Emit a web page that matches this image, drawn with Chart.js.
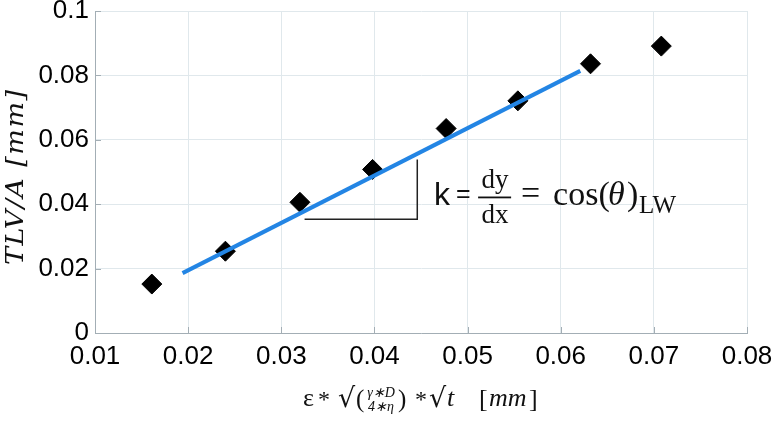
<!DOCTYPE html>
<html><head><meta charset="utf-8">
<script src="https://cdn.jsdelivr.net/npm/chart.js@4/dist/chart.umd.min.js"></script>
<style>html,body{margin:0;padding:0;background:#fff}#wrap{width:774px;height:424px;position:relative}</style>
</head><body><div id="wrap"><canvas id="c" width="774" height="424"></canvas></div>
<script>
// ---- data ----
const xValues = [0.0161, 0.0240, 0.0320, 0.0398, 0.0477, 0.0554, 0.0632, 0.0708];
const yValues = [0.0152, 0.0254, 0.0406, 0.0508, 0.0635, 0.0721, 0.0836, 0.0891];
const fitX = [0.0194, 0.0621];
const fitY = [0.0186, 0.0814];
const slopeX = [0.0325, 0.0446, 0.0446];
const slopeY = [0.0353, 0.0353, 0.0539];
const xTicks = [0.01, 0.02, 0.03, 0.04, 0.05, 0.06, 0.07, 0.08];
const xTickLabels = ['0.01', '0.02', '0.03', '0.04', '0.05', '0.06', '0.07', '0.08'];
const yTicks = [0, 0.02, 0.04, 0.06, 0.08, 0.1];
const yTickLabels = ['0', '0.02', '0.04', '0.06', '0.08', '0.1'];
const annotAnchor = [0.0463, 0.0399];

const pts = (xs, ys) => xs.map((x, i) => ({x: x, y: ys[i]}));
const AXIS = '#a3aeb5';
const GRID = '#e0e8ec';

function run(ctx, x, y, parts) {
  for (const p of parts) {
    ctx.font = p.font;
    ctx.textAlign = p.align || 'left';
    ctx.fillText(p.t, x + p.x, y + (p.dy || 0));
  }
}

const decor = {
  id: 'decor',
  afterDraw(chart) {
    const ctx = chart.ctx, a = chart.chartArea, sx = chart.scales.x, sy = chart.scales.y;
    ctx.save();
    // inward ticks
    ctx.strokeStyle = AXIS; ctx.lineWidth = 1;
    ctx.beginPath();
    xTicks.forEach(v => { const px = Math.round(sx.getPixelForValue(v)) + 0.5; ctx.moveTo(px, a.bottom); ctx.lineTo(px, a.bottom - 6); });
    yTicks.forEach(v => { const py = Math.round(sy.getPixelForValue(v)) + 0.5; ctx.moveTo(a.left, py); ctx.lineTo(a.left + 6, py); });
    ctx.stroke();

    ctx.fillStyle = '#111';
    ctx.textBaseline = 'alphabetic';
    const SER = '"Liberation Serif"';
    const MS = '"DejaVu Serif"';
    // annotation
    const ax = sx.getPixelForValue(annotAnchor[0]);
    const ay = sy.getPixelForValue(annotAnchor[1]);
    run(ctx, ax, ay, [
      {t: 'k', font: '32px "Liberation Sans"', x: 1},
      {t: '=', font: '25px "Liberation Sans"', x: 23, dy: -3},
      {t: 'dy', font: '27px ' + SER, x: 62, dy: -17, align: 'center'},
      {t: 'dx', font: '27px ' + SER, x: 62, dy: 18, align: 'center'},
      {t: '=', font: '34px ' + SER, x: 88, dy: -1},
      {t: 'cos(', font: '34px ' + SER, x: 120},
      {t: 'θ', font: 'italic 34px ' + SER, x: 175},
      {t: ')', font: '34px ' + SER, x: 194},
      {t: 'LW', font: '25px ' + SER, x: 206, dy: 8}
    ]);
    ctx.fillRect(ax + 45, ay - 8, 33, 1.8);

    // x axis title
    const cx = (a.left + a.right) / 2;
    const bx = cx - 118, by = 406;
    run(ctx, bx, by, [
      {t: 'ε', font: '26px ' + SER, x: 0},
      {t: '*', font: '24px ' + SER, x: 15, dy: 1},
      {t: '√', font: '27px ' + MS, x: 35, dy: 1},
      {t: '(', font: '25px ' + SER, x: 53, dy: 1},
      {t: 'γ∗D', font: 'italic 14px ' + SER, x: 78, dy: -9, align: 'center'},
      {t: '4∗η', font: 'italic 14px ' + SER, x: 78, dy: 5, align: 'center'},
      {t: ')', font: '25px ' + SER, x: 95, dy: 1},
      {t: '*', font: '24px ' + SER, x: 112, dy: 1},
      {t: '√', font: '27px ' + MS, x: 126, dy: 1},
      {t: 't', font: 'italic 26px ' + SER, x: 144},
      {t: '[', font: '26px ' + SER, x: 176, dy: 1},
      {t: 'mm', font: 'italic 26px ' + SER, x: 186},
      {t: ']', font: '26px ' + SER, x: 226, dy: 1}
    ]);

    // y axis title
    ctx.save();
    ctx.translate(23, 265);
    ctx.rotate(-Math.PI / 2);
    ctx.font = 'italic 25px ' + MS;
    ctx.textAlign = 'left';
    const ytitle = 'TLV/A [mm]';
    ctx.scale(1.08, 1);
    const w = ctx.measureText(ytitle).width;
    ctx.letterSpacing = Math.max(0, (175 / 1.08 - w) / (ytitle.length - 1)).toFixed(2) + 'px';
    ctx.fillText(ytitle, 0, 0);
    ctx.restore();
    ctx.restore();
  }
};

new Chart(document.getElementById('c'), {
  type: 'scatter',
  data: {
    datasets: [
      {type: 'line', data: pts(fitX, fitY), borderColor: '#2385e4', borderWidth: 4, pointRadius: 0, fill: false, tension: 0},
      {type: 'line', data: pts(slopeX, slopeY), borderColor: '#222', borderWidth: 1.5, pointRadius: 0, fill: false, tension: 0},
      {data: pts(xValues, yValues), pointStyle: 'rectRot', pointRadius: 10, backgroundColor: '#000', borderColor: '#000', borderWidth: 1}
    ]
  },
  options: {
    responsive: false, animation: false, devicePixelRatio: 1,
    layout: {padding: {left: 0, right: 27, top: 10, bottom: 0}},
    plugins: {legend: {display: false}, tooltip: {enabled: false}},
    scales: {
      x: {
        type: 'linear', min: 0.01, max: 0.08,
        afterBuildTicks: s => { s.ticks = xTicks.map(v => ({value: v})); },
        afterFit: s => { s.height = 91; s.paddingLeft = 0; s.paddingRight = 0; },
        ticks: {callback: (v, i) => xTickLabels[i], font: {family: 'Liberation Sans', size: 26}, color: '#000', padding: 8, maxRotation: 0, autoSkip: false},
        grid: {color: GRID, drawTicks: false},
        border: {color: AXIS}
      },
      y: {
        type: 'linear', min: 0, max: 0.1,
        afterBuildTicks: s => { s.ticks = yTicks.map(v => ({value: v})); },
        afterFit: s => { s.width = 95; s.paddingTop = 0; s.paddingBottom = 0; },
        ticks: {callback: (v, i) => yTickLabels[i], font: {family: 'Liberation Sans', size: 26}, color: '#000', padding: 6, autoSkip: false},
        grid: {color: GRID, drawTicks: false},
        border: {color: AXIS}
      }
    }
  },
  plugins: [decor]
});
</script>
</body></html>
